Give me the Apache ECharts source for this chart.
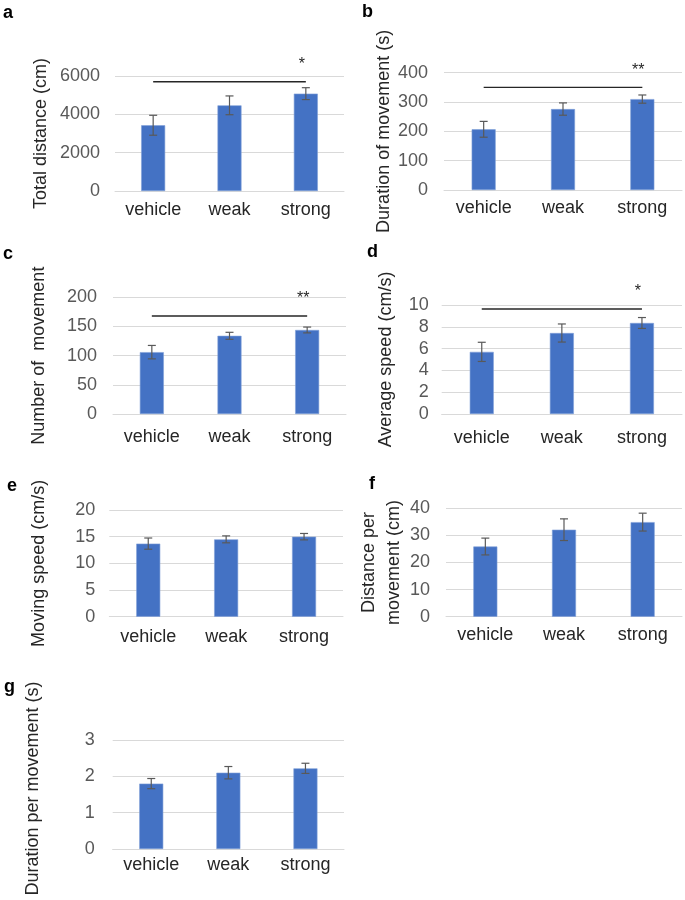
<!DOCTYPE html>
<html>
<head>
<meta charset="utf-8">
<script src="https://cdn.jsdelivr.net/npm/echarts@6/dist/echarts.min.js"></script>
<style>
html,body{margin:0;padding:0;background:#fff;}
#chart{width:685px;height:900px;}
</style>
</head>
<body>
<div id="chart"></div>
<script>
// ---- data ----
const categories = ['vehicle', 'weak', 'strong'];

const totalDistance = [3430, 4470, 5080];
const totalDistanceErr = [520, 490, 310];
const totalDistanceTicks = { max: 6000, interval: 2000 };

const durationOfMovement = [207, 276, 310];
const durationOfMovementErr = [27, 21, 14];
const durationOfMovementTicks = { max: 400, interval: 100 };

const numberOfMovement = [106, 134, 144];
const numberOfMovementErr = [11.5, 6, 5];
const numberOfMovementTicks = { max: 200, interval: 50 };

const averageSpeed = [5.7, 7.43, 8.35];
const averageSpeedErr = [0.88, 0.83, 0.5];
const averageSpeedTicks = { max: 10, interval: 2 };

const movingSpeed = [13.7, 14.5, 15.0];
const movingSpeedErr = [1.05, 0.65, 0.6];
const movingSpeedTicks = { max: 20, interval: 5 };

const distancePerMovement = [25.9, 32.1, 34.9];
const distancePerMovementErr = [3.1, 4.0, 3.3];
const distancePerMovementTicks = { max: 40, interval: 10 };

const durationPerMovement = [1.80, 2.10, 2.22];
const durationPerMovementErr = [0.14, 0.17, 0.14];
const durationPerMovementTicks = { max: 3, interval: 1 };

// significance brackets: [fromCategory, toCategory, level, mark]
const sigTotalDistance = [0, 2, 5700, '*'];
const sigDurationOfMovement = [0, 2, 350, '**'];
const sigNumberOfMovement = [0, 2, 168, '**'];
const sigAverageSpeed = [0, 2, 9.63, '*'];

// ---- layout ----
const FONT = 'Arial, "Liberation Sans", sans-serif';
const panels = [
  { letter: 'a', lx: 3, ly: 14, values: totalDistance, errs: totalDistanceErr, ticks: totalDistanceTicks,
    name: 'Total distance (cm)', sig: sigTotalDistance,
    grid: { left: 115, right: 341, top: 76, bottom: 709 }, nameGap: 64, yMargin: 15, xMargin: 10 },
  { letter: 'b', lx: 362, ly: 13, values: durationOfMovement, errs: durationOfMovementErr, ticks: durationOfMovementTicks,
    name: 'Duration of movement (s)', sig: sigDurationOfMovement,
    grid: { left: 444, right: 3, top: 72.7, bottom: 710 }, nameGap: 45, yMargin: 16, xMargin: 9 },
  { letter: 'c', lx: 3, ly: 255, values: numberOfMovement, errs: numberOfMovementErr, ticks: numberOfMovementTicks,
    name: 'Number of  movement', sig: sigNumberOfMovement,
    grid: { left: 113, right: 339, top: 297.3, bottom: 486 }, nameGap: 64, yMargin: 16, xMargin: 14 },
  { letter: 'd', lx: 367, ly: 253, values: averageSpeed, errs: averageSpeedErr, ticks: averageSpeedTicks,
    name: 'Average speed (cm/s)', sig: sigAverageSpeed,
    grid: { left: 441.7, right: 3, top: 305, bottom: 486 }, nameGap: 46, yMargin: 13, xMargin: 15 },
  { letter: 'e', lx: 7, ly: 487, values: movingSpeed, errs: movingSpeedErr, ticks: movingSpeedTicks,
    name: 'Moving speed (cm/s)', sig: null,
    grid: { left: 109.3, right: 342, top: 510, bottom: 283.3 }, nameGap: 60, yMargin: 14, xMargin: 11 },
  { letter: 'f', lx: 369, ly: 485, values: distancePerMovement, errs: distancePerMovementErr, ticks: distancePerMovementTicks,
    name: 'Distance per\nmovement (cm)', sig: null, lineHeight: 25,
    grid: { left: 446, right: 3, top: 508.3, bottom: 283.3 }, nameGap: 34, yMargin: 16, xMargin: 9 },
  { letter: 'g', lx: 4, ly: 688, values: durationPerMovement, errs: durationPerMovementErr, ticks: durationPerMovementTicks,
    name: 'Duration per movement (s)', sig: null, namePad: [0, 0, 0, 12],
    grid: { left: 112.7, right: 341, top: 740, bottom: 51 }, nameGap: 70, yMargin: 18, xMargin: 7 }
];

const grids = [], xAxes = [], yAxes = [], series = [], graphics = [];
panels.forEach((p, i) => {
  grids.push(Object.assign({ containLabel: false, outerBoundsMode: 'none' }, p.grid));
  xAxes.push({
    type: 'category', gridIndex: i, data: categories,
    axisTick: { show: false },
    axisLine: { show: true, lineStyle: { color: '#d9d9d9', width: 1 } },
    axisLabel: { color: '#262626', fontSize: 18, fontFamily: FONT, margin: p.xMargin }
  });
  yAxes.push({
    type: 'value', gridIndex: i, min: 0, max: p.ticks.max, interval: p.ticks.interval,
    axisLine: { show: false }, axisTick: { show: false },
    splitLine: { lineStyle: { color: '#d9d9d9', width: 1 } },
    axisLabel: { color: '#595959', fontSize: 18, fontFamily: FONT, margin: p.yMargin,
      formatter: v => String(v) },
    name: p.name, nameLocation: 'middle', nameGap: p.nameGap,
    nameTextStyle: { color: '#262626', fontSize: 18, fontFamily: FONT, lineHeight: p.lineHeight || 20,
      padding: p.namePad || 0 }
  });
  series.push({
    type: 'bar', xAxisIndex: i, yAxisIndex: i, data: p.values, barWidth: 24,
    itemStyle: { color: '#4472C4', borderColor: '#7f9fd8', borderWidth: 0.6 },
    silent: true, animation: false
  });
  series.push({
    type: 'custom', xAxisIndex: i, yAxisIndex: i, silent: true, animation: false, z: 5,
    data: p.values.map((v, k) => [k, v - p.errs[k], v + p.errs[k]]),
    renderItem: function (params, api) {
      const lo = api.coord([api.value(0), api.value(1)]);
      const hi = api.coord([api.value(0), api.value(2)]);
      const c = 4;
      const st = { stroke: '#595959', lineWidth: 1.2 };
      return { type: 'group', children: [
        { type: 'line', shape: { x1: lo[0], y1: lo[1], x2: hi[0], y2: hi[1] }, style: st },
        { type: 'line', shape: { x1: lo[0] - c, y1: lo[1], x2: lo[0] + c, y2: lo[1] }, style: st },
        { type: 'line', shape: { x1: hi[0] - c, y1: hi[1], x2: hi[0] + c, y2: hi[1] }, style: st }
      ] };
    }
  });
  if (p.sig) {
    series.push({
      type: 'custom', xAxisIndex: i, yAxisIndex: i, silent: true, animation: false, z: 6,
      data: [p.sig],
      renderItem: function (params, api) {
        const a = api.coord([api.value(0), api.value(2)]);
        const b = api.coord([api.value(1), api.value(2)]);
        return { type: 'group', children: [
          { type: 'line', shape: { x1: a[0], y1: a[1], x2: b[0], y2: b[1] }, style: { stroke: '#262626', lineWidth: 1.4 } },
          { type: 'text', style: { text: p.sig[3], x: b[0] - 4, y: a[1] - 17, align: 'center', verticalAlign: 'middle',
              fill: '#262626', font: '16px ' + FONT } }
        ] };
      }
    });
  }
  graphics.push({
    type: 'text', left: p.lx, top: p.ly - 10,
    style: { text: p.letter, fill: '#000', font: 'bold 18px ' + FONT }
  });
});

const chart = echarts.init(document.getElementById('chart'), null, { renderer: 'canvas' });
chart.setOption({
  animation: false,
  backgroundColor: '#fff',
  grid: grids, xAxis: xAxes, yAxis: yAxes, series: series, graphic: graphics
});
</script>
</body>
</html>
